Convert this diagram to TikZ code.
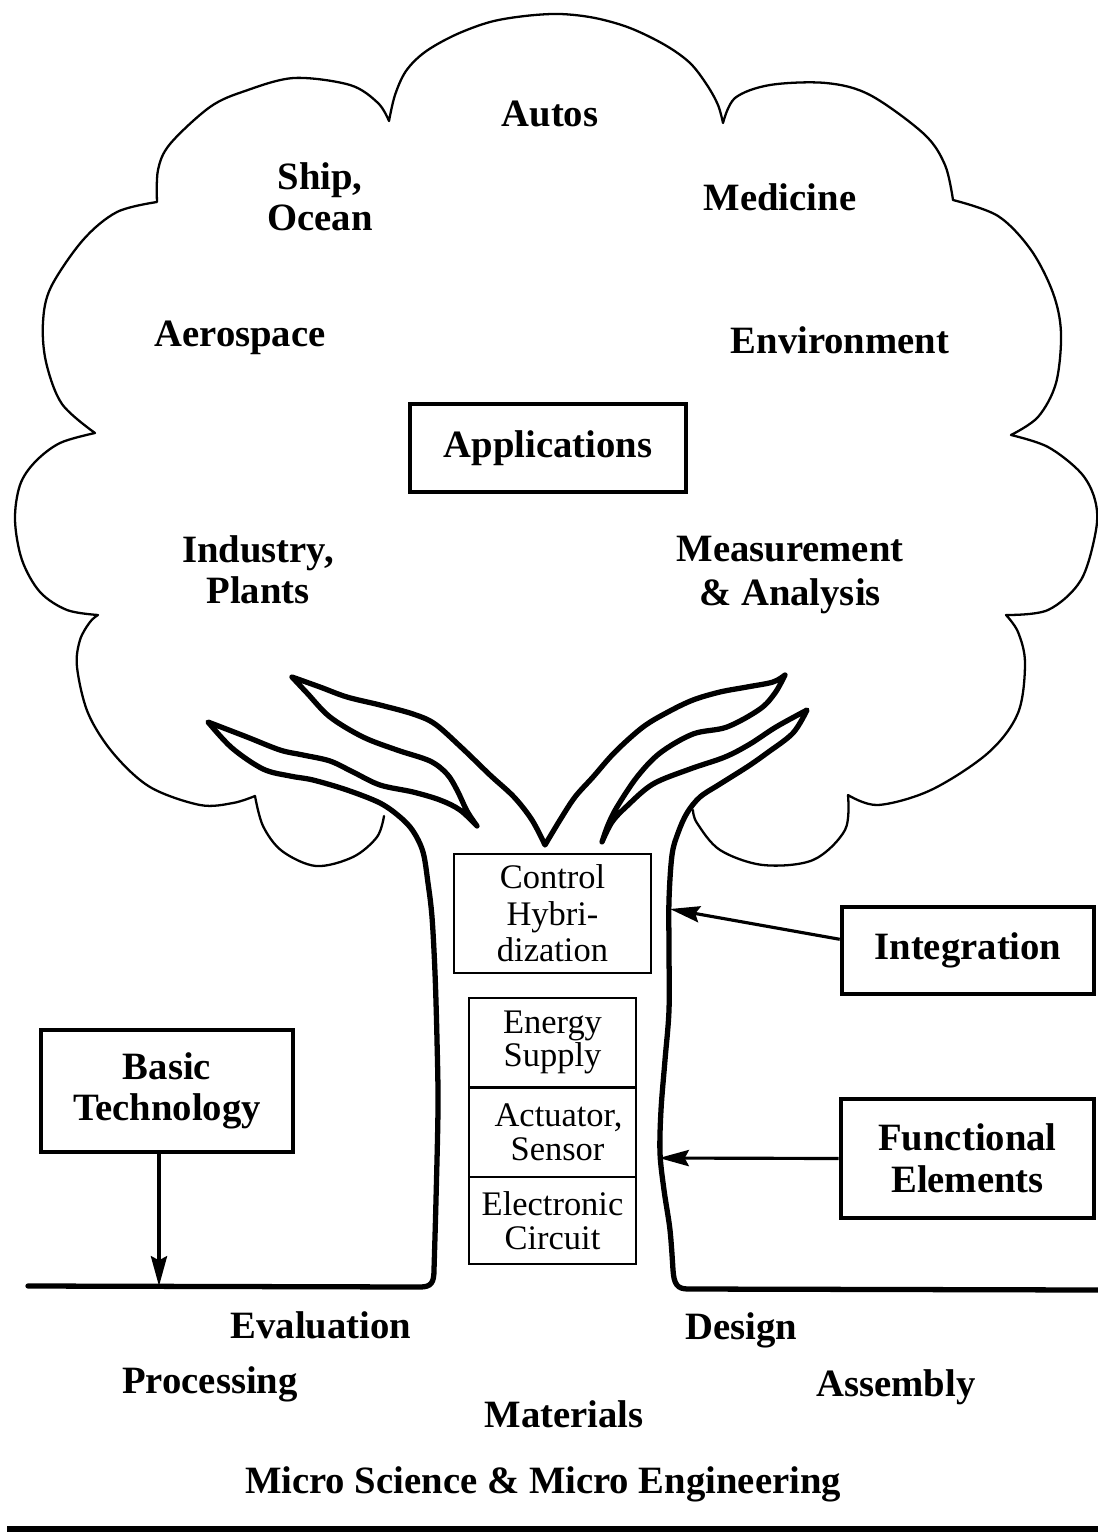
\documentclass[tikz,border=0pt]{standalone}
\usepackage{fontspec}
\setmainfont{Liberation Serif}
\usetikzlibrary{arrows.meta}
\begin{document}
\begin{tikzpicture}[x=0.01cm,y=-0.01cm,
  cloudline/.style={line width=0.65pt, line join=round, line cap=round},
  branchline/.style={line width=1.5pt, line join=round, line cap=round},
  baseline rule/.style={line width=1.7pt},
  lbl/.style={font=\fontsize{11}{11.6}\selectfont\bfseries, inner sep=0pt, align=center},
  thickbox/.style={draw, line width=1.25pt, inner sep=0pt, align=center,
    font=\fontsize{11}{11.8}\selectfont\bfseries},
  thinbox/.style={draw, line width=0.65pt, inner sep=0pt, align=center,
    font=\fontsize{9.8}{9.6}\selectfont},
  feedarrow/.style={line width=0.9pt, -{Stealth[length=8.5pt,width=4.6pt,inset=1.2pt]}},
  smoothseg/.style={smooth, tension=0.55},
]
\useasboundingbox (0,0) rectangle (1098,1533);

% ---------- crown of the tree ----------
\draw[cloudline]
  plot[smoothseg] coordinates {(384,816) (377,837) (353,857) (316,866) (282,851) (263,826) (255,796)}
  -- plot[smoothseg] coordinates {(255,796) (233,803) (200,805) (150,787) (113,753) (88,713) (77,667) (80,640) (90,622) (98,615)}
  -- plot[smoothseg] coordinates {(98,615) (67,610) (40,592) (22,560) (15,520) (20,485) (35,462) (60,443) (95,433)}
  -- plot[smoothseg] coordinates {(95,433) (62,404) (46,362) (43,322) (51,287) (83,240) (117,212) (157,202)}
  -- plot[smoothseg] coordinates {(157,202) (158,170) (170,144) (210,107) (245,91) (294,78) (350,85) (378,103) (389,121)}
  -- plot[smoothseg] coordinates {(389,121) (395,95) (406,71) (425,52) (455,35) (490,22) (525,16) (560,14) (595,18) (630,28) (665,45) (690,63) (707,85) (718,105) (723,123)}
  -- plot[smoothseg] coordinates {(723,123) (735,98) (770,85) (826,83) (870,95) (924,134) (945,165) (953,200)}
  -- plot[smoothseg] coordinates {(953,200) (998,216) (1031,250) (1053,293) (1061,333) (1056,383) (1038,417) (1011,435)}
  -- plot[smoothseg] coordinates {(1011,435) (1048,447) (1081,473) (1095,500) (1096,530) (1081,580) (1048,610) (1006,615)}
  -- plot[smoothseg] coordinates {(1006,615) (1018,632) (1025,663) (1018,713) (988,753) (931,790) (878,805) (848,795)}
  -- plot[smoothseg] coordinates {(848,795) (845,830) (813,860) (763,865) (720,850) (697,823) (693,810)};

% ---------- trunk, branches and ground ----------
\draw[branchline]
  (28,1286) -- (420,1287) .. controls (431,1287) and (434,1283) .. (434,1270)
  -- plot[smoothseg] coordinates {(434,1270) (436,1200) (438,1107) (437,1040) (435,973) (432,917) (428,883) (423,852) (413,831) (400,817) (380,803) (347,790) (313,780) (290,776) (263,769) (232,748) (208,722)}
  -- plot[smoothseg] coordinates {(208,722) (247,737) (280,750) (303,755) (330,761) (353,772) (380,785) (413,792) (440,800) (460,810) (477,826)}
  -- plot[smoothseg] coordinates {(477,826) (467,811) (457,790) (447,774) (430,761) (397,750) (363,737) (330,717) (307,693) (292,677)}
  -- plot[smoothseg] coordinates {(292,677) (320,687) (347,697) (380,705) (413,714) (435,724) (462,748) (490,775) (514,797) (532,820) (545,845)}
  -- plot[smoothseg] coordinates {(545,845) (560,820) (575,797) (593,777) (615,752) (643,727) (668,712) (693,700) (720,692) (747,687) (773,682) (785,675)}
  -- plot[smoothseg] coordinates {(785,675) (775,693) (760,709) (727,727) (693,734) (660,753) (637,777) (617,807) (608,825) (602,842)}
  -- plot[smoothseg] coordinates {(602,842) (612,822) (627,806) (653,784) (690,769) (725,757) (750,744) (776,727) (807,710)}
  -- plot[smoothseg] coordinates {(807,710) (793,733) (767,753) (747,767) (720,784) (700,797) (687,813) (678,833) (672,855) (669,900) (669,950) (669,1010) (665,1060) (661,1110) (660,1153) (664,1190) (670,1230) (673,1270)}
  .. controls (674,1284) and (677,1289) .. (688,1289) -- (1098,1290);

% points where the arrows meet the trunk and the ground
\coordinate (intHit) at (670,909);
\coordinate (funcHit) at (659,1158);
\coordinate (basicHit) at (159,1286);

% ---------- labels in the crown ----------
\node[lbl, anchor=base] (autos) at (550,126) {Autos};
\node[lbl] (ship) at (320,197) {Ship,\\Ocean};
\node[lbl, anchor=base] (medicine) at (780,210) {Medicine};
\node[lbl, anchor=base] (aero) at (240,346) {Aerospace};
\node[lbl, anchor=base] (env) at (840,353) {Environment};
\node[thickbox, line width=1.1pt, minimum width=2.76cm, minimum height=0.88cm] (apps) at (548,448) {Applications};
\node[lbl] (industry) at (258,570) {Industry,\\Plants};
\node[lbl, font=\fontsize{11}{12.4}\selectfont\bfseries] (measure) at (790,575) {Measurement\\\& Analysis};

% ---------- boxes in the trunk ----------
\node[thinbox, font=\fontsize{9.8}{10.4}\selectfont, minimum width=1.97cm, minimum height=1.19cm] (control) at (552.5,913.5) {Control\\Hybri-\\dization};
\node[thinbox, minimum width=1.67cm, minimum height=0.895cm] (energy) at (552.5,1042.5) {Energy\\Supply};
\node[thinbox, minimum width=1.67cm, minimum height=0.89cm] (actuator) at (552.5,1132.5) {\hspace*{0.12cm}Actuator,\\\hspace*{0.1cm}Sensor};
\node[thinbox, minimum width=1.67cm, minimum height=0.87cm] (circuit) at (552.5,1220.5) {Electronic\\Circuit};

% ---------- boxes at the sides ----------
\node[thickbox, minimum width=2.52cm, minimum height=0.87cm] (integ) at (968,950.5) {Integration};
\node[thickbox, minimum width=2.53cm, minimum height=1.19cm] (func) at (967.5,1158.5) {Functional\\Elements};
\node[thickbox, minimum width=2.52cm, minimum height=1.22cm] (basic) at (167,1091) {Basic\\Technology};

\draw[feedarrow] (integ.175) -- (intHit);
\draw[feedarrow] (func.west) -- (funcHit);
\draw[feedarrow] (basic.south -| basicHit) -- (basicHit);

% ---------- labels under the ground ----------
\node[lbl, anchor=base] (evaluation) at (321,1338) {Evaluation};
\node[lbl, anchor=base] (design) at (741,1339) {Design};
\node[lbl, anchor=base] (processing) at (210,1393) {Processing};
\node[lbl, anchor=base] (assembly) at (896,1396) {Assembly};
\node[lbl, anchor=base] (materials) at (564,1427) {Materials};
\node[lbl, anchor=base] (micro) at (543,1493) {Micro Science \& Micro Engineering};

\draw[baseline rule] (7,1529) -- (1098,1529);
\end{tikzpicture}
\end{document}
